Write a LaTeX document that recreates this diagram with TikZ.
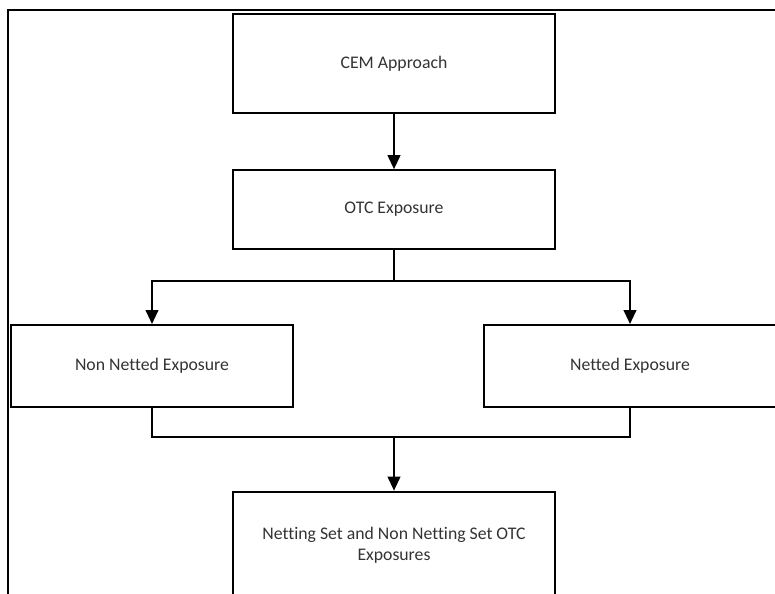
\documentclass[tikz,border=0pt]{standalone}
\usepackage{fontspec}
\setmainfont{Carlito}[Ligatures=NoCommon]
\usetikzlibrary{arrows.meta}

\begin{document}
\begin{tikzpicture}[
  x=0.75pt, y=-0.75pt,
  stepbox/.style={rectangle, draw, line width=1.5pt, align=center,
    font=\fontsize{13.3}{15.5}\selectfont, text=black!80, inner sep=0pt},
  arr/.style={-{Triangle[width=9.5pt,length=10.5pt]}, line width=1.5pt},
  link/.style={line width=1.5pt}
]
\useasboundingbox (0,0) rectangle (775,593);
\clip (0,0) rectangle (775,593);

% Outer frame
\draw[line width=1.2pt] (8,10) rectangle (800,620);

% Boxes
\node[stepbox, minimum width=241.5pt, minimum height=74pt] (cem) at (394,63.5) {CEM Approach};
\node[stepbox, minimum width=241.5pt, minimum height=59pt] (otc) at (394,209.5) {OTC Exposure};
\node[stepbox, minimum width=211.5pt, minimum height=61.5pt] (nonnet) at (152,366) {Non Netted Exposure};
\node[stepbox, minimum width=219.75pt, minimum height=61.5pt] (net) at (630,366) {Netted Exposure};
\node[stepbox, minimum width=241.5pt, minimum height=80pt] (nsets) at (394,545) {Netting Set and Non Netting Set OTC\\Exposures};

% Split and join points
\coordinate (split) at (394,281);
\coordinate (join) at (394,437);

% Arrows
\draw[arr] (cem.south) -- (otc.north);
\draw[link] (otc.south) -- (split);
\draw[arr] (split) -| (nonnet.north);
\draw[arr] (split) -| (net.north);
\draw[link] (nonnet.south) |- (join);
\draw[link] (net.south) |- (join);
\draw[arr] (join) -- (nsets.north);

\end{tikzpicture}
\end{document}
